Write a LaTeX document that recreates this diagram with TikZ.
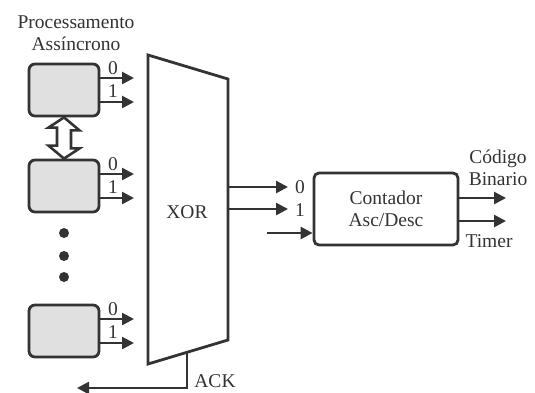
\documentclass[tikz,border=0pt]{standalone}
\usepackage{fontspec}
\setmainfont{Liberation Serif}
\usetikzlibrary{arrows.meta,positioning}
\colorlet{linecol}{black!80}
\tikzset{
	procbox/.style={draw=linecol, line width=2.8pt, rounded corners=6pt, fill=black!12, minimum width=70pt, minimum height=52pt},
	countbox/.style={draw=linecol, line width=2.8pt, rounded corners=5pt, minimum width=144pt, minimum height=72pt, align=center, font=\fontsize{19.5}{22}\selectfont, text=linecol},
	sig/.style={draw=linecol, line width=2.6pt, -{Triangle[length=12pt,width=12pt]}},
	lbl/.style={inner sep=0pt, font=\fontsize{19.5}{22.5}\selectfont, text=linecol}
}
\begin{document}
\begin{tikzpicture}[x=1pt,y=-1pt]
	\useasboundingbox (0,0) rectangle (535,392);
	\node[lbl, align=center] (title) at (76,33) {Processamento\\Assíncrono};
	% processing blocks, each with outputs 0 and 1
	\foreach \n/\y in {1/90, 2/186, 3/331} {
		\node[procbox] (p\n) at (64,\y) {};
		\coordinate (p\n a) at (134,\y-12);
		\coordinate (p\n b) at (134,\y+12);
		\draw[sig] (p\n.east |- p\n a) -- (p\n a);
		\draw[sig] (p\n.east |- p\n b) -- (p\n b);
		\node[lbl] (p\n l0) at (113,\y-22) {0};
		\node[lbl] (p\n l1) at (113,\y+1) {1};
	}
	% hollow double arrow between first two blocks
	\draw[linecol, line width=2.6pt, fill=white, line join=miter]
		(p1.south) -- ++(15.5,13) -- ++(-8.5,0) -- ++(0,18) -- ++(8.5,0) -- (p2.north)
		-- ++(-15.5,-13) -- ++(8.5,0) -- ++(0,-18) -- ++(-8.5,0) -- cycle;
	% dots
	\foreach \y in {233,256,277} {
		\fill[linecol] (64,\y) circle (5pt);
	}
	% XOR trapezoid
	\coordinate (xtl) at (148,55);
	\coordinate (xtr) at (228,79);
	\coordinate (xbr) at (228,340);
	\coordinate (xbl) at (148,364);
	\draw[linecol, line width=2.8pt, line join=miter] (xtl) -- (xtr) -- (xbr) -- (xbl) -- cycle;
	\node[lbl] (xor) at (187,212) {XOR};
	% ACK back to the blocks
	\coordinate (ackup) at (187,352);
	\coordinate (ackend) at (77,388);
	\draw[sig] (ackup) |- (ackend);
	\node[lbl] (ack) at (215,381) {ACK};
	% counter
	\node[countbox] (cnt) at (386,209) {Contador\\Asc/Desc};
	\coordinate (x0) at (228,187);
	\coordinate (x1) at (228,209);
	\coordinate (c0) at (288,187);
	\coordinate (c1) at (288,209);
	\draw[sig] (x0) -- (c0);
	\draw[sig] (x1) -- (c1);
	\node[lbl] (cl0) at (300,187) {0};
	\node[lbl] (cl1) at (300,210) {1};
	\coordinate (cin) at (267,233);
	\draw[sig] (cin) -- (cnt.west |- cin);
	% counter outputs
	\coordinate (o1) at (506,198);
	\coordinate (o2) at (506,221);
	\draw[sig] (cnt.east |- o1) -- (o1);
	\draw[sig] (cnt.east |- o2) -- (o2);
	\node[lbl, align=center] (code) at (498,168) {Código\\Binario};
	\node[lbl] (timer) at (489,241) {Timer};
\end{tikzpicture}
\end{document}
